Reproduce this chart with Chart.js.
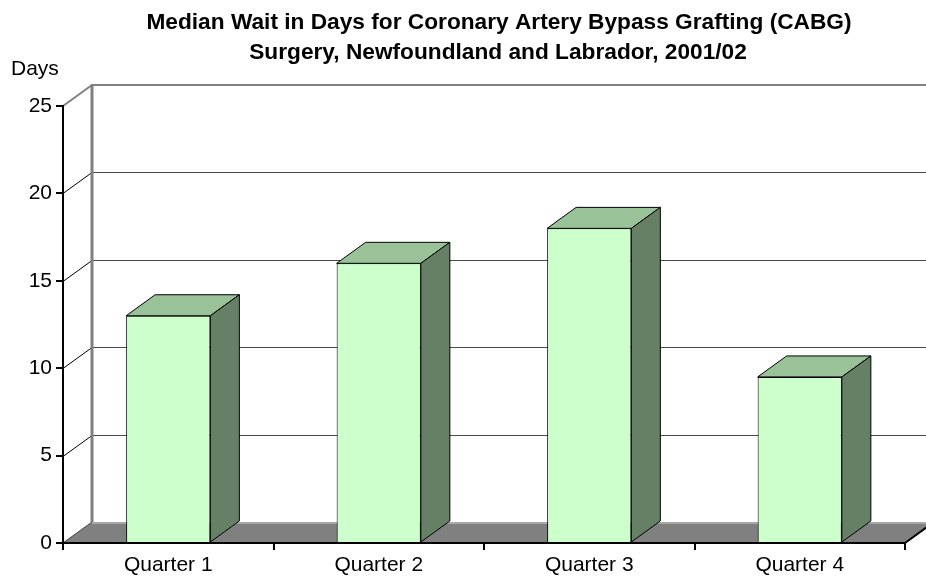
<!DOCTYPE html>
<html>
<head>
<meta charset="utf-8">
<script src="https://cdn.jsdelivr.net/npm/chart.js@4/dist/chart.umd.min.js"></script>
<style>
  html, body { margin: 0; padding: 0; background: #fff; }
</style>
</head>
<body>
<canvas id="grafico" width="926" height="578"></canvas>
<script>
const quarters = ['Quarter 1', 'Quarter 2', 'Quarter 3', 'Quarter 4'];
const medianWait = [13, 16, 18, 9.5];
const titleLines = [
  'Median Wait in Days for Coronary Artery Bypass Grafting (CABG)',
  'Surgery, Newfoundland and Labrador, 2001/02'
];
const axisLabel = 'Days';

const fontFamily = "'Liberation Sans', Arial, sans-serif";
const depthX = 29;
const depthY = -21;

function line(ctx, x1, y1, x2, y2, color, width) {
  ctx.beginPath();
  ctx.moveTo(x1, y1);
  ctx.lineTo(x2, y2);
  ctx.strokeStyle = color;
  ctx.lineWidth = width;
  ctx.stroke();
}

// floor, left wall and back wall, under the axes
const walls = {
  id: 'walls',
  beforeDraw(chart) {
    const ctx = chart.ctx;
    const area = chart.chartArea;
    const y = chart.scales.y;
    const zero = y.getPixelForValue(0);
    const top = y.getPixelForValue(y.max);
    const backLeft = area.left + depthX;
    ctx.save();

    ctx.beginPath();
    ctx.moveTo(area.left, zero);
    ctx.lineTo(area.right, zero);
    ctx.lineTo(area.right + depthX, zero + depthY);
    ctx.lineTo(backLeft, zero + depthY);
    ctx.closePath();
    ctx.fillStyle = '#808080';
    ctx.fill();
    line(ctx, area.right, zero, area.right + depthX, zero + depthY, '#000', 2);
    line(ctx, area.left, zero, backLeft, zero + depthY, '#404040', 1);
    line(ctx, backLeft, zero + depthY + 1, chart.width, zero + depthY + 1, '#a8a8a8', 2);

    // gridlines on the back wall and the left wall
    y.ticks.forEach(t => {
      if (t.value === 0 || t.value === y.max) return;
      const py = Math.round(y.getPixelForValue(t.value)) + 0.5;
      line(ctx, area.left, py, backLeft, py + depthY, '#000', 1);
      line(ctx, backLeft, py + depthY, chart.width, py + depthY, '#4a4a4a', 1);
    });

    line(ctx, area.left, top, backLeft, top + depthY, '#808080', 2);
    line(ctx, backLeft - 1, top + depthY, chart.width, top + depthY, '#808080', 2);
    line(ctx, backLeft, top + depthY, backLeft, zero + depthY, '#808080', 3);
    ctx.restore();
  }
};

// top and side faces of every bar, from the bar elements
const faces = {
  id: 'faces',
  afterDatasetsDraw(chart) {
    const ctx = chart.ctx;
    ctx.save();
    ctx.lineWidth = 1;
    ctx.strokeStyle = '#000';
    chart.getDatasetMeta(0).data.forEach(bar => {
      const p = bar.getProps(['x', 'y', 'width', 'base'], true);
      const l = p.x - p.width / 2;
      const r = p.x + p.width / 2;

      ctx.beginPath();
      ctx.moveTo(l, p.y);
      ctx.lineTo(l + depthX, p.y + depthY);
      ctx.lineTo(r + depthX, p.y + depthY);
      ctx.lineTo(r, p.y);
      ctx.closePath();
      ctx.fillStyle = '#99c299';
      ctx.fill();
      ctx.stroke();

      ctx.beginPath();
      ctx.moveTo(r, p.y);
      ctx.lineTo(r + depthX, p.y + depthY);
      ctx.lineTo(r + depthX, p.base + depthY);
      ctx.lineTo(r, p.base);
      ctx.closePath();
      ctx.fillStyle = '#668066';
      ctx.fill();
      ctx.stroke();
    });
    ctx.restore();
  }
};

// title and axis caption
const labels = {
  id: 'labels',
  afterDraw(chart) {
    const ctx = chart.ctx;
    ctx.save();
    ctx.fillStyle = '#000';
    ctx.textBaseline = 'alphabetic';
    ctx.textAlign = 'center';
    ctx.font = 'bold 22.7px ' + fontFamily;
    ctx.fillText(titleLines[0], 499, 29);
    ctx.fillText(titleLines[1], 498, 59);
    ctx.textAlign = 'left';
    ctx.font = '21px ' + fontFamily;
    ctx.fillText(axisLabel, 11, 75);
    ctx.restore();
  }
};

new Chart(document.getElementById('grafico'), {
  type: 'bar',
  data: {
    labels: quarters,
    datasets: [{
      data: medianWait,
      backgroundColor: '#ccffcc',
      borderColor: '#000',
      borderWidth: 1,
      barPercentage: 0.4,
      categoryPercentage: 1
    }]
  },
  options: {
    responsive: false,
    animation: false,
    devicePixelRatio: 1,
    layout: { padding: { top: 106, right: 21, left: 0, bottom: 0 } },
    plugins: {
      legend: { display: false },
      title: { display: false },
      tooltip: { enabled: false }
    },
    scales: {
      x: {
        grid: { drawOnChartArea: false, tickLength: 7, color: '#000', lineWidth: 2 },
        border: { display: true, color: '#000', width: 2 },
        ticks: { color: '#000', font: { family: fontFamily, size: 21 }, padding: 3, maxRotation: 0 },
        afterFit(scale) { scale.height = 35; }
      },
      y: {
        min: 0,
        max: 25,
        grid: { drawOnChartArea: false, tickLength: 7, color: '#000', lineWidth: 2 },
        border: { display: true, color: '#000', width: 2 },
        ticks: { stepSize: 5, color: '#000', font: { family: fontFamily, size: 21 }, padding: 4 },
        afterFit(scale) { scale.width = 63; }
      }
    }
  },
  plugins: [walls, faces, labels]
});
</script>
</body>
</html>
